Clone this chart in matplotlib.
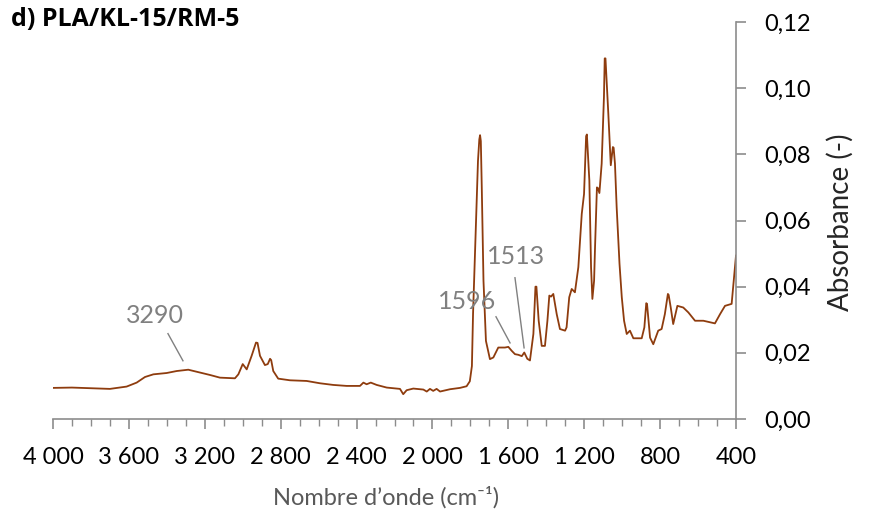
"""
FTIR spectrum, panel d) PLA/KL-15/RM-5.
"""

import matplotlib
matplotlib.use("Agg")
import matplotlib.pyplot as plt
from matplotlib.ticker import FixedLocator, MultipleLocator

# spectrum: wavenumber (cm-1) and absorbance
wavenumber = [
    4000, 3900, 3800, 3700, 3612, 3559, 3515, 3471, 3401, 3348, 3287, 3243,
    3172, 3120, 3041, 3023, 3000, 2979, 2953, 2930, 2922, 2909, 2883, 2868,
    2856, 2850, 2839, 2813, 2751, 2663, 2593, 2523, 2452, 2382, 2364, 2347,
    2325, 2294, 2241, 2188, 2171, 2154, 2136, 2101, 2048, 2030, 2013, 1996,
    1978, 1960, 1907, 1855, 1820, 1803, 1792, 1786, 1770, 1760, 1753, 1749,
    1745, 1740, 1731, 1718, 1697, 1679, 1653, 1618, 1600, 1582, 1565, 1547,
    1529, 1516, 1500, 1486, 1468, 1457, 1452, 1440, 1424, 1407, 1394, 1384,
    1375, 1363, 1345, 1328, 1301, 1293, 1279, 1266, 1249, 1231, 1213, 1201,
    1190, 1186, 1173, 1164, 1157, 1148, 1143, 1133, 1128, 1120, 1108, 1096,
    1092, 1088, 1073, 1060, 1049, 1045, 1038, 1029, 1014, 1002, 990, 976,
    959, 941, 897, 883, 873, 869, 853, 836, 810, 792, 775, 759, 755, 744,
    731, 709, 678, 651, 616, 572, 511, 484, 458, 423, 400,
]
absorbance = [
    0.0094, 0.0095, 0.0093, 0.0091, 0.0098, 0.0110, 0.0127, 0.0135, 0.0139,
    0.0145, 0.0149, 0.0143, 0.0133, 0.0125, 0.0123, 0.0135, 0.0166, 0.0150,
    0.0191, 0.0231, 0.0230, 0.0191, 0.0163, 0.0166, 0.0182, 0.0178, 0.0145,
    0.0122, 0.0117, 0.0115, 0.0108, 0.0103, 0.0100, 0.0100, 0.0110, 0.0105,
    0.0110, 0.0103, 0.0095, 0.0092, 0.0091, 0.0075, 0.0087, 0.0092, 0.0089,
    0.0083, 0.0091, 0.0085, 0.0091, 0.0083, 0.0090, 0.0094, 0.0099, 0.0114,
    0.0160, 0.0318, 0.0600, 0.0780, 0.0845, 0.0858, 0.0840, 0.0700, 0.0418,
    0.0236, 0.0181, 0.0186, 0.0216, 0.0216, 0.0218, 0.0206, 0.0196, 0.0194,
    0.0190, 0.0201, 0.0182, 0.0177, 0.0257, 0.0400, 0.0400, 0.0297, 0.0221,
    0.0221, 0.0297, 0.0373, 0.0370, 0.0378, 0.0317, 0.0272, 0.0267, 0.0277,
    0.0368, 0.0393, 0.0383, 0.0459, 0.0620, 0.0680, 0.0855, 0.0860, 0.0721,
    0.0459, 0.0363, 0.0418, 0.0519, 0.0700, 0.0698, 0.0683, 0.0772, 0.0974,
    0.1090, 0.1090, 0.0923, 0.0767, 0.0822, 0.0820, 0.0772, 0.0640, 0.0469,
    0.0368, 0.0297, 0.0257, 0.0267, 0.0244, 0.0244, 0.0277, 0.0350, 0.0348,
    0.0246, 0.0226, 0.0267, 0.0272, 0.0317, 0.0378, 0.0375, 0.0337, 0.0287,
    0.0342, 0.0337, 0.0322, 0.0297, 0.0297, 0.0289, 0.0317, 0.0342, 0.0348,
    0.0494,
]

x_ticks = [4000, 3600, 3200, 2800, 2400, 2000, 1600, 1200, 800, 400]
x_tick_labels = ["4 000", "3 600", "3 200", "2 800", "2 400", "2 000",
                 "1 600", "1 200", "800", "400"]
y_ticks = [0.00, 0.02, 0.04, 0.06, 0.08, 0.10, 0.12]
y_tick_labels = ["0,00", "0,02", "0,04", "0,06", "0,08", "0,10", "0,12"]

# band labels: text, text position, leader line start and end (wavenumber, absorbance)
band_labels = ["3290", "1596", "1513"]
label_pos = [(3462, 0.0312), (1818, 0.0355), (1560, 0.0491)]
leader_start = [(3394, 0.0258), (1665, 0.0309), (1565, 0.0427)]
leader_end = [(3315, 0.0176), (1591, 0.0230), (1517, 0.0215)]

LINE_COLOR = "#8e3c0e"
GREY = "#808080"
AXIS_GREY = "#8c8c8c"
FONT = ["Lato", "DejaVu Sans"]


def main() -> None:
    fig = plt.figure(figsize=(8.69, 5.17), dpi=100)
    ax = fig.add_axes([53 / 869, 1 - 419 / 517, 683 / 869, 397 / 517])

    ax.plot(wavenumber, absorbance, color=LINE_COLOR, lw=1.3)

    for text, tpos, p0, p1 in zip(band_labels, label_pos, leader_start, leader_end):
        ax.plot([p0[0], p1[0]], [p0[1], p1[1]], color=GREY, lw=1.0)
        ax.text(tpos[0], tpos[1], text, color=GREY, fontsize=18, family=FONT,
                ha="center", va="center")

    ax.set_xlim(4000, 400)
    ax.set_ylim(0, 0.12)

    for side in ("top", "left"):
        ax.spines[side].set_visible(False)
    for side in ("bottom", "right"):
        ax.spines[side].set_color(AXIS_GREY)
        ax.spines[side].set_linewidth(1.2)

    ax.xaxis.set_major_locator(FixedLocator(x_ticks))
    ax.set_xticklabels(x_tick_labels, family=FONT, fontsize=17)
    ax.xaxis.set_minor_locator(MultipleLocator(100))
    ax.tick_params(axis="x", which="major", direction="out", length=7,
                   width=1.2, color=AXIS_GREY, pad=13)
    ax.tick_params(axis="x", which="minor", direction="out", length=5,
                   width=1.0, color=AXIS_GREY)

    ax.yaxis.tick_right()
    ax.set_yticks(y_ticks)
    ax.set_yticklabels(y_tick_labels, family=FONT, fontsize=17)
    ax.tick_params(axis="y", which="major", direction="out", length=7,
                   width=1.2, color=AXIS_GREY, pad=13)

    fig.text(840 / 869, 1 - 222 / 517, "Absorbance (-)", rotation=90,
             ha="center", va="center", fontsize=20, family=FONT, color="#262626")
    fig.text(386 / 869, 1 - 497 / 517, "Nombre d\u2019onde (cm\u207b\u00b9)",
             ha="center", va="center", fontsize=17, family=FONT, color="#595959")
    fig.text(11 / 869, 1 - 20 / 517, "d) PLA/KL-15/RM-5", ha="left", va="center",
             fontsize=18, fontweight="bold", family=["Open Sans", "DejaVu Sans"])

    fig.savefig("out.png", dpi=100)
    plt.close(fig)


if __name__ == "__main__":
    main()
